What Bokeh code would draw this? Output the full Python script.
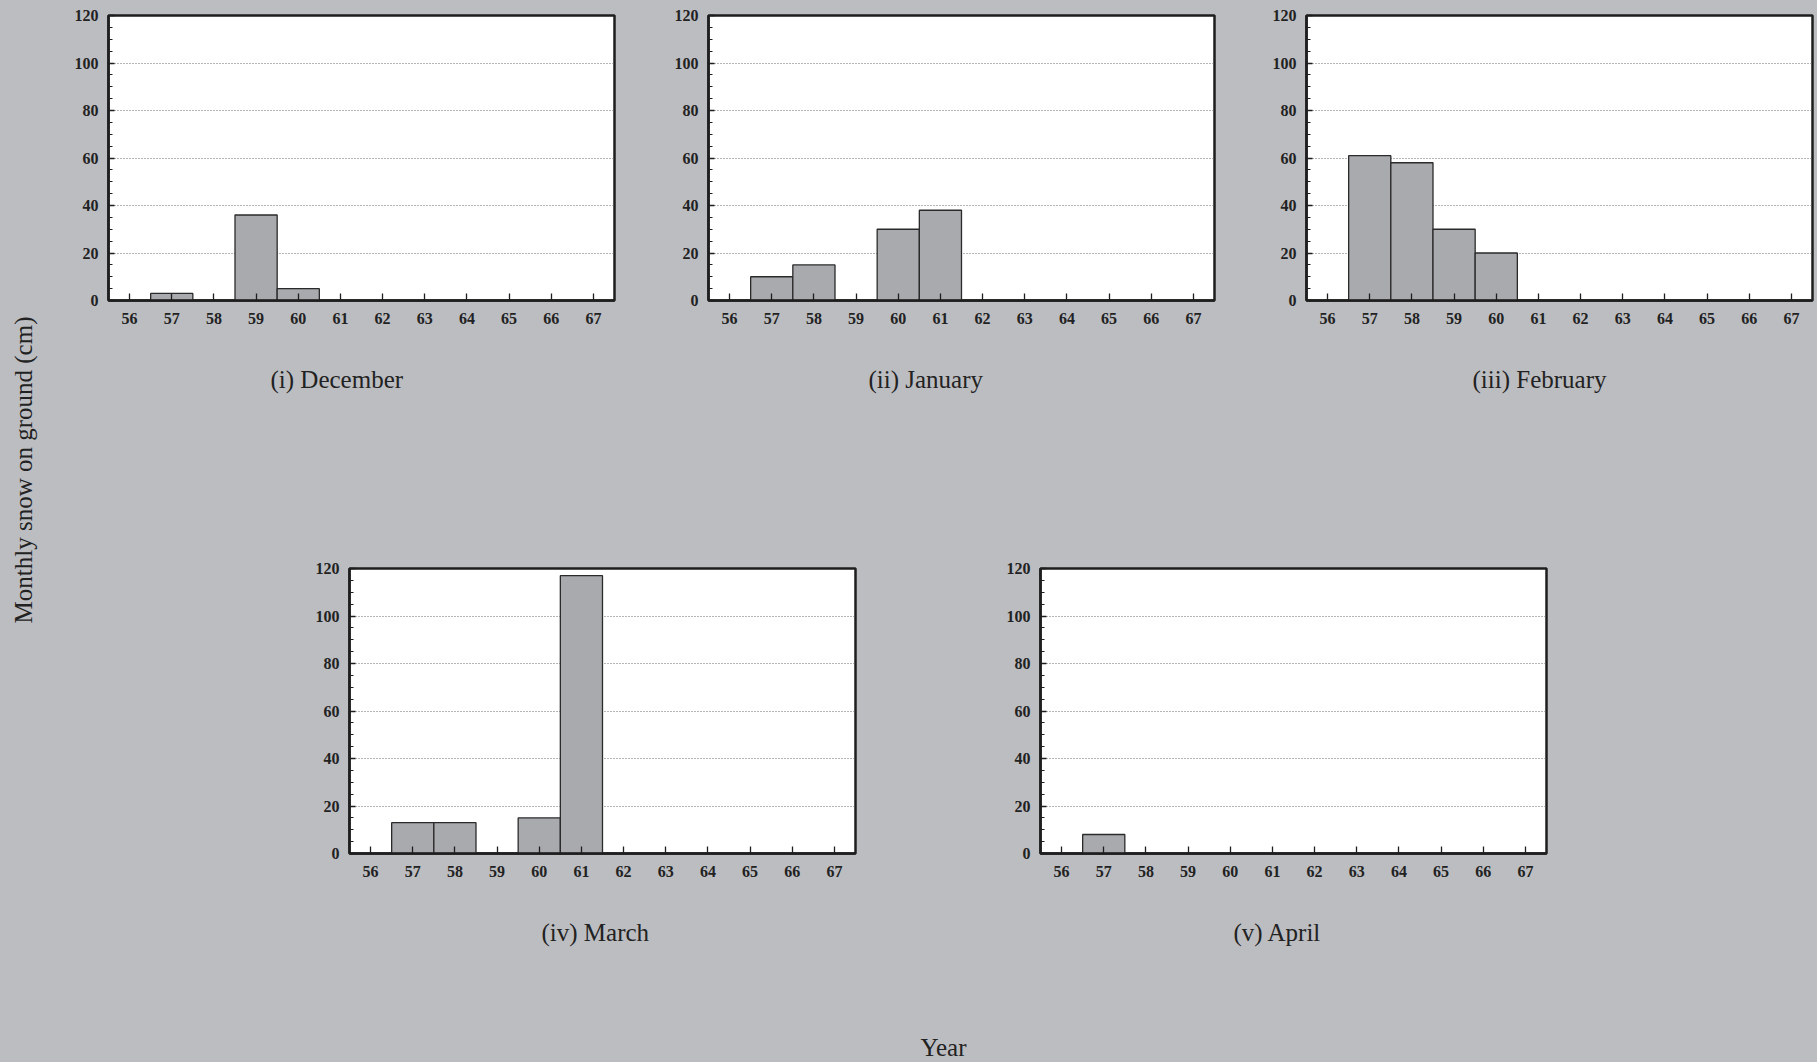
import math
from bokeh.plotting import figure
from bokeh.layouts import row, column
from bokeh.models import Range1d, FixedTicker, SingleIntervalTicker, Title, Label
from bokeh.embed import file_html
from bokeh.resources import INLINE

# ---------------- data ----------------
years = [56, 57, 58, 59, 60, 61, 62, 63, 64, 65, 66, 67]
december = [0, 3, 0, 36, 5, 0, 0, 0, 0, 0, 0, 0]
january = [0, 10, 15, 0, 30, 38, 0, 0, 0, 0, 0, 0]
february = [0, 61, 58, 30, 20, 0, 0, 0, 0, 0, 0, 0]
march = [0, 13, 13, 0, 15, 117, 0, 0, 0, 0, 0, 0]
april = [0, 8, 0, 0, 0, 0, 0, 0, 0, 0, 0, 0]
panel_titles = ["(i) December", "(ii) January", "(iii) February", "(iv) March", "(v) April"]
y_title = "Monthly snow on ground (cm)"
x_title = "Year"

# ---------------- style ----------------
BG = "#bcbdc1"
BAR = "#a9aaae"
DARK = "#1e1e1e"
SERIF = "Liberation Serif"


def panel(values, title, left, right, top, bottom, title_offset, fw=506, fh=285):
    p = figure(frame_width=fw, frame_height=fh, output_backend="svg", toolbar_location=None,
               x_range=Range1d(55.5, 67.5), y_range=Range1d(0, 120),
               min_border_left=left, min_border_right=right,
               min_border_top=top, min_border_bottom=bottom)
    p.background_fill_color = "white"
    p.border_fill_color = BG
    p.outline_line_color = DARK
    p.outline_line_width = 2.5
    xs = [y for y, v in zip(years, values) if v > 0]
    vs = [v for v in values if v > 0]
    p.vbar(x=xs, top=vs, bottom=0, width=1.0, fill_color=BAR, line_color="#2a2a2a", line_width=1.3)

    p.xaxis.ticker = FixedTicker(ticks=years, minor_ticks=[])
    p.yaxis.ticker = SingleIntervalTicker(interval=20, num_minor_ticks=4)
    for ax in (p.xaxis[0], p.yaxis[0]):
        ax.axis_line_color = DARK
        ax.axis_line_width = 2.5
        ax.major_tick_line_color = DARK
        ax.minor_tick_line_color = DARK
        ax.major_tick_line_width = 1.3
        ax.minor_tick_line_width = 1.0
        ax.major_tick_out = 0
        ax.minor_tick_out = 0
        ax.major_label_text_font = SERIF
        ax.major_label_text_font_style = "bold"
        ax.major_label_text_font_size = "16px"
        ax.major_label_text_color = "#222222"
    p.xaxis.major_tick_in = 7
    p.xaxis.major_label_standoff = 12
    p.yaxis.major_tick_in = 6
    p.yaxis.minor_tick_in = 4
    p.yaxis.major_label_standoff = 10
    p.xgrid.visible = False
    p.ygrid.grid_line_color = "#6a6a6a"
    p.ygrid.grid_line_dash = "1 2"
    p.ygrid.grid_line_width = 1

    t = Title(text=title, align="left", offset=title_offset, standoff=74, text_font=SERIF,
              text_font_style="normal", text_font_size="25px", text_color="#222222")
    p.add_layout(t, "below")
    return p


# row 1 (frames at y 15..300)
f1 = panel(december, panel_titles[0], 63, 34, 15, 140, 162)
f2 = panel(january, panel_titles[1], 60, 32, 15, 140, 160)
f3 = panel(february, panel_titles[2], 60, 5, 15, 140, 166)
# row 2 (frames at y 568..853)
f4 = panel(march, panel_titles[3], 304, 125, 128, 140, 192)
f5 = panel(april, panel_titles[4], 60, 30, 128, 140, 193)

# left strip with the shared y title
ylab = figure(width=45, height=1062, output_backend="svg", toolbar_location=None,
              x_range=Range1d(0, 45), y_range=Range1d(0, 1062),
              x_axis_type=None, y_axis_type=None, min_border=0)
ylab.background_fill_color = BG
ylab.border_fill_color = BG
ylab.outline_line_color = None
ylab.add_layout(Label(x=23, y=592.5, text=y_title, angle=math.pi / 2, text_align="center",
                      text_baseline="middle", text_font=SERIF, text_font_size="25px",
                      text_color="#222222"))

# bottom strip with the shared x title
yfig = figure(width=1772, height=69, output_backend="svg", toolbar_location=None,
              x_range=Range1d(0, 1772), y_range=Range1d(0, 69),
              x_axis_type=None, y_axis_type=None, min_border=0)
yfig.background_fill_color = BG
yfig.border_fill_color = BG
yfig.outline_line_color = None
yfig.add_layout(Label(x=898, y=15.5, text=x_title, text_align="center", text_baseline="middle",
                      text_font=SERIF, text_font_size="25px", text_color="#222222"))

right = column(row(f1, f2, f3), row(f4, f5), yfig)
layout = row(ylab, right)
layout.styles = {"background-color": BG}
right.styles = {"background-color": BG}

open("out.html", "w").write(file_html(layout, INLINE))
